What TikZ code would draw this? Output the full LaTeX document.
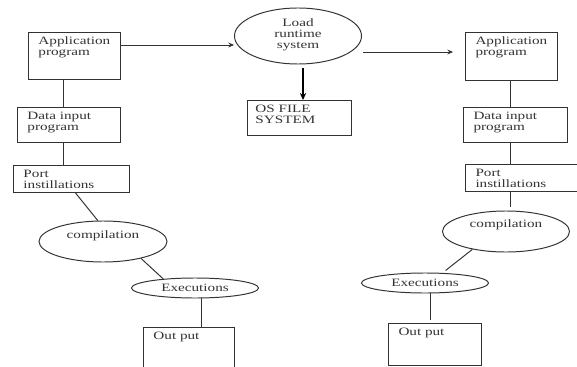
\documentclass[tikz,border=0pt]{standalone}
\usepackage{fontspec}
\setmainfont{Liberation Serif}[FakeStretch=1.35]
\usetikzlibrary{shapes.geometric,calc,arrows.meta}

\tikzset{
  box/.style={draw, rectangle, anchor=north west, align=left,
    inner xsep=0.25cm, inner ysep=0.1cm, text height=6pt},
  oval/.style={draw, ellipse, inner sep=0pt, align=center},
}

\begin{document}
\begin{tikzpicture}[x=0.025cm, y=-0.025cm, >={Stealth[length=4pt,width=3.5pt]},
    line width=0.7pt, color=black!80, font=\fontsize{8}{7.8}\selectfont]

        \useasboundingbox (0,0) rectangle (577,367);
        \clip (0,0) rectangle (577,367);

        % left chain
        \node[box, text width=1.8cm, text depth=0.763cm] at (28,32) (appL) {Application\\program};
        \node[box, text width=2.075cm, text depth=0.463cm] at (17,107) (dataL) {Data input\\program};
        \node[box, text width=2.4cm, text depth=0.263cm] at (13,165) (portL) {Port\\instillations};
        \node[oval, minimum width=3.2cm, minimum height=1.025cm, text height=6pt, text depth=10pt] at (103,241.5) (compL) {compilation};
        \node[oval, minimum width=3.175cm, minimum height=0.5cm] at (195,288) (execL) {Executions};
        \node[box, text width=1.775cm, text depth=1.088cm] at (143,327) (outL) {Out put};

        % middle
        \node[oval, minimum width=3.175cm, minimum height=1.4cm, text depth=3pt] at (298,36) (loadE) {Load\\runtime\\system};
        \node[box, inner xsep=0.2cm, text width=2.2cm, text depth=0.463cm] at (247,100) (osF) {OS FILE\\SYSTEM};

        % right chain
        \node[box, text width=1.8cm, text depth=0.788cm] at (465,32) (appR) {Application\\program};
        \node[box, text width=2.1cm, text depth=0.463cm] at (463,107) (dataR) {Data input\\program};
        \node[box, text width=2.45cm, text depth=0.263cm] at (465,164) (portR) {Port\\instillations};
        \node[oval, minimum width=3.175cm, minimum height=1.025cm, text height=6pt, text depth=11pt] at (506,231.5) (compR) {compilation};
        \node[oval, minimum width=3.175cm, minimum height=0.5cm] at (425,283) (execR) {Executions};
        \node[box, text width=1.825cm, text depth=0.638cm] at (388,323) (outR) {Out put};

        % arrows
        \draw[->] ($(appL.north east)+(0,13)$) coordinate (a1) -- (a1 -| loadE.west);
        \draw[-{Stealth[length=5pt,width=4.5pt]}, line width=1pt, black] ($(loadE.south)+(5,4)$) coordinate (a2) -- (a2 |- osF.north);
        \draw[->, shorten >=0.3cm] ($(loadE.east)+(1,16)$) coordinate (a3) -- (a3 -| appR.west);

        % left links
        \draw ($(appL.south west)+(35,0)$) coordinate (c1) -- (c1 |- dataL.north);
        \draw (c1 |- dataL.south) -- (c1 |- portL.north);
        \draw ($(portL.south)+(4,0)$) -- (compL.104);
        \draw (compL.-24) -- (execL.164);
        \draw ($(outL.north west)+(58,0)$) coordinate (c3) -- (c3 |- execL.south);

        % right links
        \draw ($(appR.south west)+(45,0)$) coordinate (c4) -- (c4 |- dataR.north);
        \draw (c4 |- dataR.south) -- (c4 |- portR.north);
        \draw[shorten >=0.1cm] (c4 |- portR.south) -- (c4 |- compR.north);
        \draw[shorten >=0.1cm] (compR.208) -- (execR.30);
        \draw ($(outR.north west)+(42,0)$) coordinate (c5);
        \draw[shorten >=0.08cm] (c5 |- execR.south) -- (c5);

    \end{tikzpicture}
\end{document}
